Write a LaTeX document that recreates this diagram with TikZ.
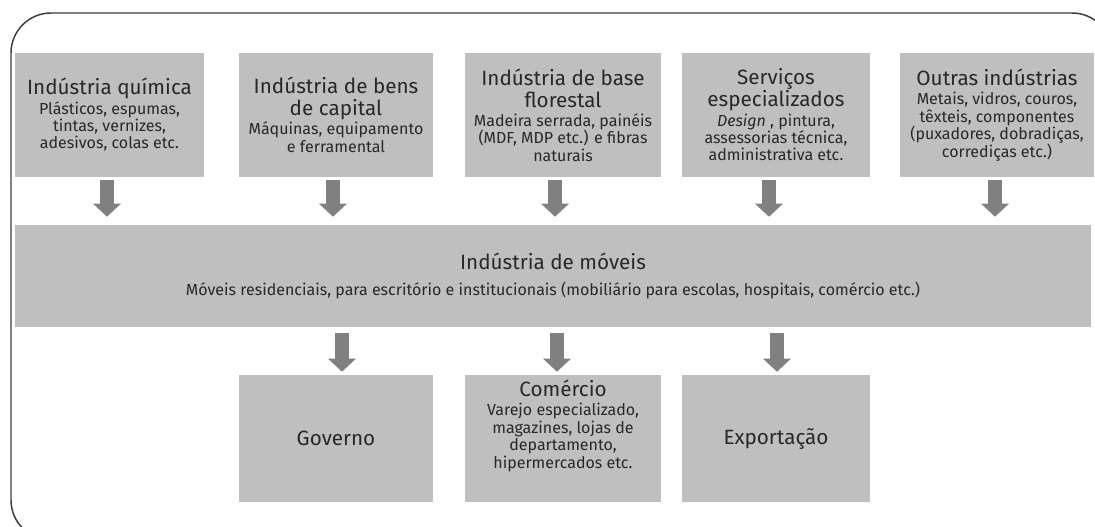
\documentclass[tikz,border=0pt]{standalone}
\usepackage{fontspec}
\setmainfont{Fira Sans}
\usetikzlibrary{arrows.meta,positioning}
\definecolor{boxgray}{RGB}{192,191,192}
\definecolor{arrowgray}{RGB}{128,128,128}
\definecolor{inkgray}{RGB}{40,40,40}
\definecolor{framegray}{RGB}{60,60,60}
\newcommand{\ttl}[1]{{\fontsize{15.5}{16.5}\selectfont #1}}
\newcommand{\subfont}{\fontsize{12}{13.1}\selectfont\lineskiplimit-20pt\relax}
\tikzset{
  pbox/.style={fill=boxgray,inner sep=0pt,minimum height=93pt,text=inkgray,align=center,font=\subfont},
  ptext/.style={inner sep=0pt,text=inkgray,align=center,font=\subfont},
  feed/.style={draw=arrowgray,line width=10.5pt,-{Triangle[width=20.25pt,length=9.75pt]}},
}
\begin{document}
\begin{tikzpicture}[x=0.75pt,y=-0.75pt]
    \useasboundingbox (0,0) rectangle (1095,526);
    \clip (0,0) rectangle (1095,526);
    %% Frame
    \draw[framegray,line width=1.1pt,rounded corners=30pt] (11,13) rectangle (1112,540);
    %% Suppliers
    \node[pbox,minimum width=141.75pt] (quim) at (109.5,115) {\ttl{Indústria química}\\[1.2pt]Plásticos, espumas,\\tintas, vernizes,\\adesivos, colas etc.};
    \node[pbox,minimum width=145.5pt] (bens) at (336,115) {\ttl{Indústria de bens}\\[3.4pt]\ttl{de capital}\\[1.2pt]Máquinas, equipamento\\e ferramental};
    \node[pbox,minimum width=147pt] (flor) at (563,115) {\ttl{Indústria de base}\\[3.4pt]\ttl{florestal}\\[1.2pt]Madeira serrada, painéis\\(MDF, MDP etc.) e fibras\\naturais};
    \node[pbox,minimum width=141pt] (serv) at (776,115) {\ttl{Serviços}\\[3.4pt]\ttl{especializados}\\[1.2pt]\textit{Design} , pintura,\\assessorias técnica,\\administrativa etc.};
    \node[pbox,minimum width=145.5pt] (outr) at (997,115) {\ttl{Outras indústrias}\\[1.2pt]Metais, vidros, couros,\\têxteis, componentes\\(puxadores, dobradiças,\\corrediças etc.)};
    %% Furniture industry
    \node[pbox,minimum width=807pt,minimum height=76.5pt] (mov) at (553,276) {\ttl{Indústria de móveis}\\[6.4pt]Móveis residenciais, para escritório e institucionais (mobiliário para escolas, hospitais, comércio etc.)};
    %% Markets
    \node[pbox,minimum width=145.5pt,minimum height=95.25pt] (gov) at (336,438.5) {\ttl{Governo}};
    \node[pbox,minimum width=147pt,minimum height=95.25pt] (com) at (563,438.5) {};
    \node[ptext,below=4pt of com.north] (comtxt) {\ttl{Comércio}\\[1.2pt]Varejo especializado,\\magazines, lojas de\\departamento,\\hipermercados etc.};
    \node[pbox,minimum width=141pt,minimum height=95.25pt] (exp) at (776,438.5) {\ttl{Exportação}};
    %% Arrows
    \draw[feed,shorten <=2.25pt,shorten >=6pt] ([xshift=-1.9pt]quim.south) -- ([xshift=-1.9pt]quim.south |- mov.north);
    \draw[feed,shorten <=2.25pt,shorten >=6pt] ([xshift=-2.25pt]bens.south) -- ([xshift=-2.25pt]bens.south |- mov.north);
    \draw[feed,shorten <=2.25pt,shorten >=6pt] ([xshift=-6pt]flor.south) -- ([xshift=-6pt]flor.south |- mov.north);
    \draw[feed,shorten <=2.25pt,shorten >=6pt] ([xshift=-5.25pt]serv.south) -- ([xshift=-5.25pt]serv.south |- mov.north);
    \draw[feed,shorten <=2.25pt,shorten >=6pt] ([xshift=-1.5pt]outr.south) -- ([xshift=-1.5pt]outr.south |- mov.north);
    \draw[feed,shorten <=4.5pt,shorten >=2.25pt] ([xshift=4.5pt]gov.north |- mov.south) -- ([xshift=4.5pt]gov.north);
    \draw[feed,shorten <=4.5pt,shorten >=2.25pt] ([xshift=-4.5pt]com.north |- mov.south) -- ([xshift=-4.5pt]com.north);
    \draw[feed,shorten <=4.5pt,shorten >=2.25pt] ([xshift=0.75pt]exp.north |- mov.south) -- ([xshift=0.75pt]exp.north);
\end{tikzpicture}
\end{document}
